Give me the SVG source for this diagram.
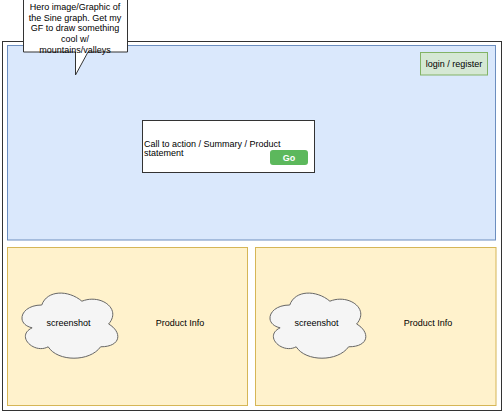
<svg xmlns="http://www.w3.org/2000/svg" xmlns:xlink="http://www.w3.org/1999/xlink" width="504" height="414" viewBox="0 0 504 414">
<style>
text{font-family:"Liberation Sans",Arial,Helvetica,sans-serif;font-size:9px;fill:#000}
.c{text-anchor:middle}
.blue{fill:#dae8fc;stroke:#6c8ebf}
.yel{fill:#fff2cc;stroke:#d6b656}
.cloud{fill:#f5f5f5;stroke:#666666}
</style>
<defs>
<path id="cloudShape" d="M41.75 305 C20.35 305 15 324 32.12 327.8 C15 336.16 34.26 354.4 48.17 346.8 C57.8 362 89.9 362 100.6 346.8 C122 346.8 122 331.6 108.6 324 C122 308.8 100.6 293.6 81.9 301.2 C68.5 289.8 47.1 289.8 41.75 305 Z"/>
</defs>
<rect width="504" height="414" fill="#ffffff"/>
<g id="frame">
<rect x="2.5" y="41.5" width="499" height="369" fill="#ffffff" stroke="#333333"/>
</g>
<g id="hero">
<rect class="blue" x="7.5" y="45.5" width="488" height="194.5"/>
</g>
<g id="login">
<rect x="420.5" y="52.5" width="67" height="22.5" fill="#d5e8d4" stroke="#82b366"/>
<text class="c" x="454" y="67">login / register</text>
</g>
<g id="cta">
<rect x="142.5" y="120.5" width="172" height="52" fill="#ffffff" stroke="#333333"/>
<text x="144" y="146.5">Call to action / Summary / Product</text>
<text x="144" y="156">statement</text>
</g>
<g id="go">
<rect x="270" y="150" width="38" height="15" rx="3" fill="#5cb85c"/>
<text class="c" x="289" y="161" style="fill:#ffffff;font-weight:bold">Go</text>
</g>
<g id="product1">
<rect class="yel" x="7.5" y="247.5" width="240" height="158"/>
<text class="c" x="180" y="326">Product Info</text>
</g>
<g id="screenshot1">
<use xlink:href="#cloudShape" class="cloud"/>
<text class="c" x="68.5" y="326">screenshot</text>
</g>
<g id="product2">
<rect class="yel" x="255.5" y="247.5" width="240.5" height="158"/>
<text class="c" x="428" y="326">Product Info</text>
</g>
<g id="screenshot2">
<use xlink:href="#cloudShape" class="cloud" transform="translate(248,0)"/>
<text class="c" x="316.5" y="326">screenshot</text>
</g>
<g id="callout">
<path d="M23.5 -1 H127.5 V52 H88 L75.5 75 V52 H23.5 Z" fill="#ffffff" stroke="#333333"/>
<text class="c" x="75" y="10">Hero image/Graphic of</text>
<text class="c" x="75" y="20.7">the Sine graph. Get my</text>
<text class="c" x="75" y="31.4">GF to draw something</text>
<text class="c" x="75" y="42">cool w/</text>
<text class="c" x="75" y="52.7">mountains/valleys</text>
</g>
<g id="connectors"></g>
</svg>
